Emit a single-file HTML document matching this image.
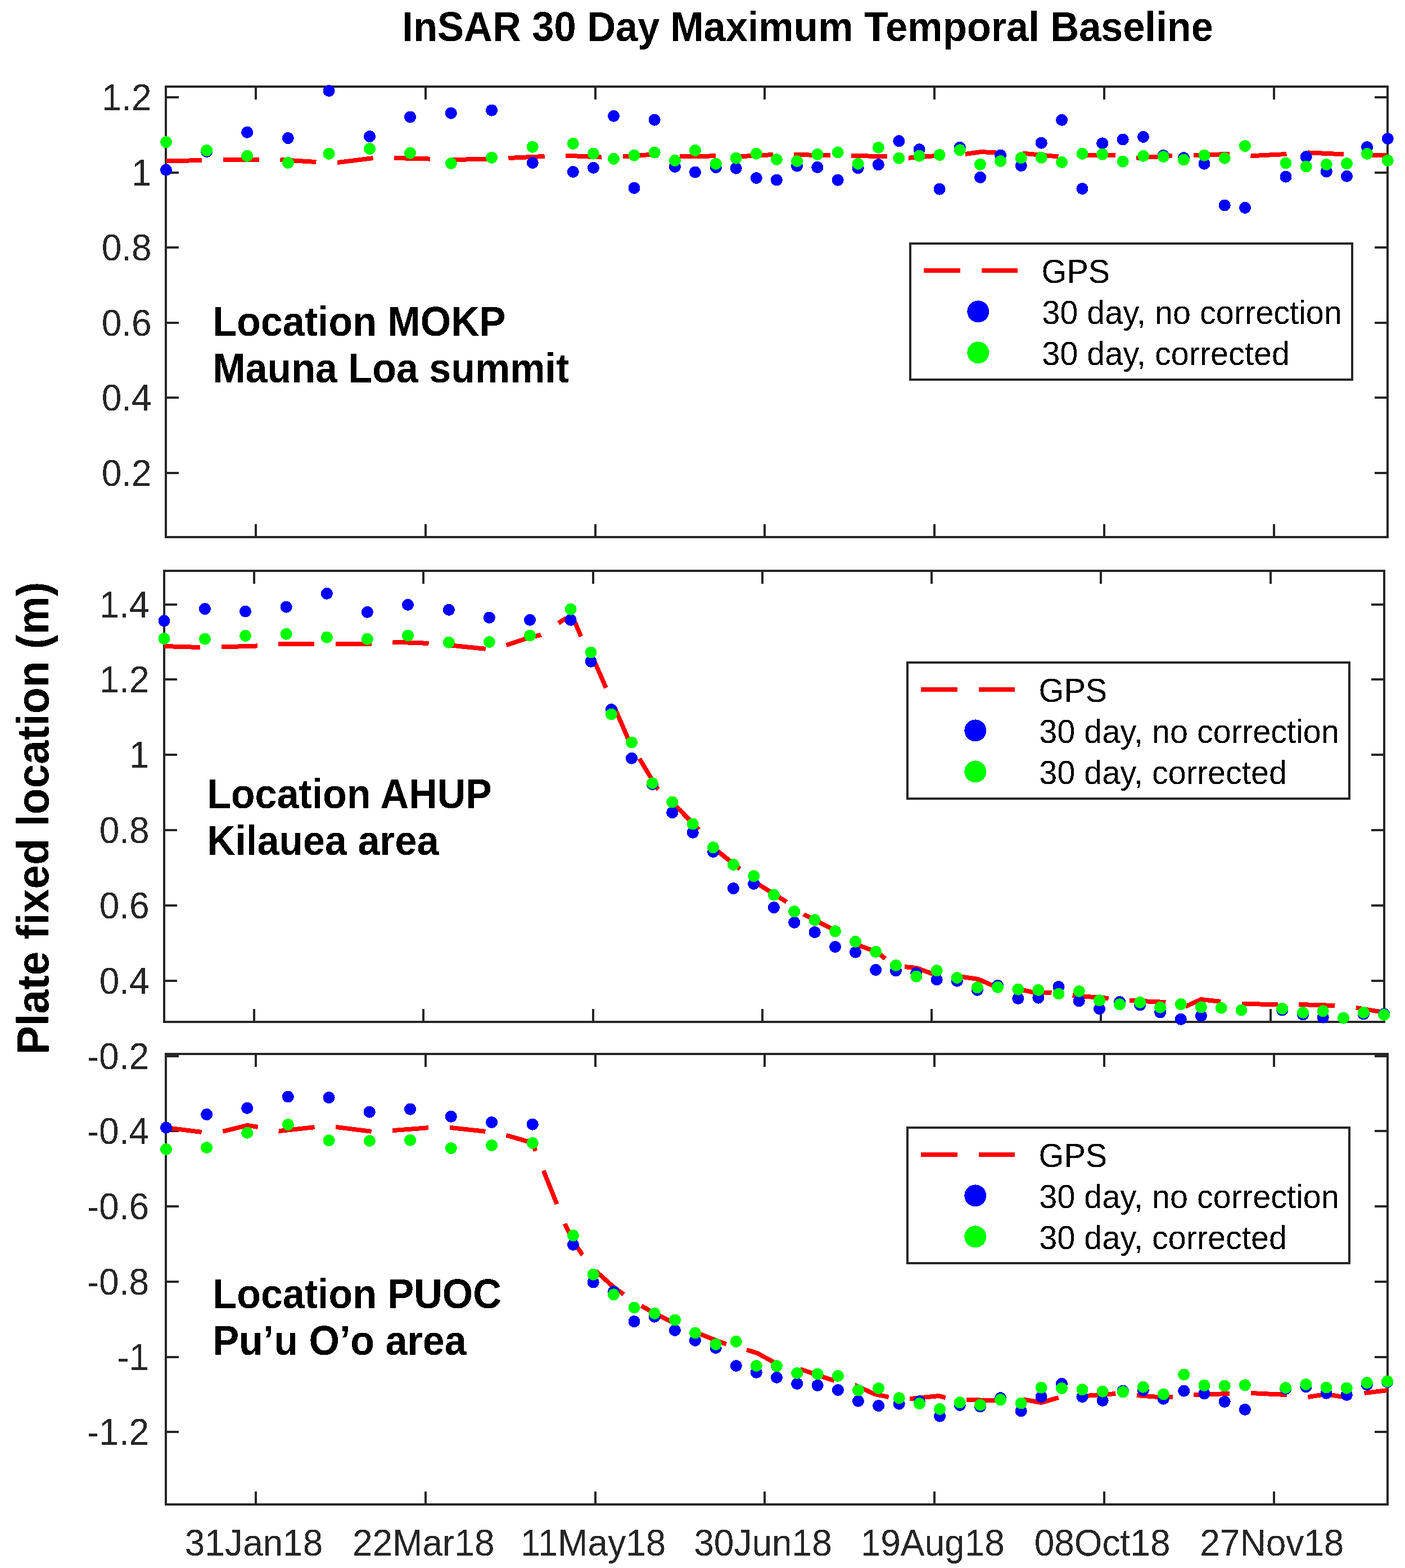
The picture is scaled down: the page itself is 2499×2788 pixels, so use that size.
<!DOCTYPE html>
<html><head><meta charset="utf-8"><title>InSAR 30 Day Maximum Temporal Baseline</title>
<style>html,body{margin:0;padding:0;background:#fff;width:2499px;height:2788px;overflow:hidden}svg{display:block}text{font-family:"Liberation Sans", Arial, Helvetica, sans-serif}</style></head><body>
<svg width="2499" height="2788" viewBox="0 0 2499 2788">
<rect width="2499" height="2788" fill="#fff"/>
<defs><filter id="bin" x="0" y="0" width="1" height="1" color-interpolation-filters="sRGB"><feComponentTransfer><feFuncA type="discrete" tableValues="0 1"/></feComponentTransfer></filter></defs>
<path d="M295 173h23M2468 173h-23M295 307h23M2468 307h-23M295 440h23M2468 440h-23M295 574h23M2468 574h-23M295 707h23M2468 707h-23M295 841h23M2468 841h-23M455 955v-23M455 154v23M757 955v-23M757 154v23M1059 955v-23M1059 154v23M1360 955v-23M1360 154v23M1662 955v-23M1662 154v23M1964 955v-23M1964 154v23M2266 955v-23M2266 154v23" stroke="#262626" stroke-width="4" fill="none" shape-rendering="crispEdges"/>
<rect x="295" y="154" width="2173" height="801" fill="none" stroke="#262626" stroke-width="4" shape-rendering="crispEdges"/>
<polyline points="295,286.5 358,285 397,284.5 460,284 498,284 562,288 600,289 664,281 700,281 766,282.6 808,284 867,282.6 905,281 968,278 1006,276.6 1071,279.6 1108,278.5 1156,275 1209,278.5 1273,277.3 1311,278.5 1375,275 1412,275 1476,276.2 1514,276.6 1578,278.5 1616,280.8 1661,277.3 1718,273.8 1745,270 1772,271.5 1819,272.7 1883,278.5 1934,276.2 1983,276.2 2021,280.8 2085,276.9 2124,276.2 2188,273.8 2225,277.2 2290,273.9 2327,271.4 2391,274.4 2440,275.5 2468,275.5" fill="none" stroke="#f00" stroke-width="8" stroke-dasharray="64.2 37.5" stroke-linejoin="round" shape-rendering="crispEdges"/>
<g fill="#00f" shape-rendering="crispEdges"><circle cx="295.5" cy="302.2" r="10.5"/><circle cx="367.7" cy="269.5" r="10.5"/><circle cx="439.7" cy="235.3" r="10.5"/><circle cx="512.4" cy="245.5" r="10.5"/><circle cx="585.1" cy="161.5" r="10.5"/><circle cx="657.6" cy="242.7" r="10.5"/><circle cx="729.6" cy="208.1" r="10.5"/><circle cx="802.3" cy="201.2" r="10.5"/><circle cx="874.6" cy="196.1" r="10.5"/><circle cx="947.3" cy="289.5" r="10.5"/><circle cx="1019.3" cy="305.5" r="10.5"/><circle cx="1055.5" cy="298.3" r="10.5"/><circle cx="1091.5" cy="206.3" r="10.5"/><circle cx="1128" cy="334.3" r="10.5"/><circle cx="1164.2" cy="213.2" r="10.5"/><circle cx="1200.5" cy="296.5" r="10.5"/><circle cx="1236.5" cy="306.2" r="10.5"/><circle cx="1273.4" cy="297.6" r="10.5"/><circle cx="1309.2" cy="299.2" r="10.5"/><circle cx="1345.4" cy="316.5" r="10.5"/><circle cx="1381.4" cy="320" r="10.5"/><circle cx="1417.6" cy="295.1" r="10.5"/><circle cx="1453.9" cy="297.4" r="10.5"/><circle cx="1490.2" cy="320.2" r="10.5"/><circle cx="1526.2" cy="298.8" r="10.5"/><circle cx="1562.4" cy="292.8" r="10.5"/><circle cx="1598.9" cy="250.8" r="10.5"/><circle cx="1635.1" cy="265.8" r="10.5"/><circle cx="1671.1" cy="336.2" r="10.5"/><circle cx="1707.3" cy="262.3" r="10.5"/><circle cx="1743.6" cy="315.4" r="10.5"/><circle cx="1779.6" cy="276.2" r="10.5"/><circle cx="1816.3" cy="294.6" r="10.5"/><circle cx="1852.3" cy="254.2" r="10.5"/><circle cx="1888.6" cy="213.4" r="10.5"/><circle cx="1925" cy="335.5" r="10.5"/><circle cx="1960.8" cy="254.9" r="10.5"/><circle cx="1997.2" cy="248" r="10.5"/><circle cx="2033.5" cy="243.4" r="10.5"/><circle cx="2069.2" cy="276.6" r="10.5"/><circle cx="2105.5" cy="280.8" r="10.5"/><circle cx="2142" cy="291.2" r="10.5"/><circle cx="2178.2" cy="365" r="10.5"/><circle cx="2214.5" cy="369.4" r="10.5"/><circle cx="2287" cy="314.2" r="10.5"/><circle cx="2323.2" cy="278.8" r="10.5"/><circle cx="2359.4" cy="305.1" r="10.5"/><circle cx="2395.5" cy="313.3" r="10.5"/><circle cx="2431.6" cy="261.6" r="10.5"/><circle cx="2468.3" cy="246.5" r="10.5"/></g>
<g fill="#0f0" shape-rendering="crispEdges"><circle cx="295.5" cy="252.6" r="10.5"/><circle cx="367.7" cy="267.6" r="10.5"/><circle cx="439.7" cy="277.3" r="10.5"/><circle cx="512.4" cy="289.3" r="10.5"/><circle cx="585.1" cy="273.4" r="10.5"/><circle cx="657.6" cy="264.6" r="10.5"/><circle cx="729.6" cy="272.2" r="10.5"/><circle cx="802.3" cy="290.5" r="10.5"/><circle cx="874.6" cy="280.3" r="10.5"/><circle cx="947.3" cy="261.2" r="10.5"/><circle cx="1019.3" cy="255.4" r="10.5"/><circle cx="1055.5" cy="273.2" r="10.5"/><circle cx="1091.5" cy="282.4" r="10.5"/><circle cx="1128" cy="276.2" r="10.5"/><circle cx="1164.2" cy="271.1" r="10.5"/><circle cx="1200.5" cy="285.4" r="10.5"/><circle cx="1236.5" cy="267.4" r="10.5"/><circle cx="1273.4" cy="291.2" r="10.5"/><circle cx="1309.2" cy="281.2" r="10.5"/><circle cx="1345.4" cy="273.2" r="10.5"/><circle cx="1381.4" cy="283.5" r="10.5"/><circle cx="1417.6" cy="286.5" r="10.5"/><circle cx="1453.9" cy="274.5" r="10.5"/><circle cx="1490.2" cy="270.9" r="10.5"/><circle cx="1526.2" cy="291.2" r="10.5"/><circle cx="1562.4" cy="262.3" r="10.5"/><circle cx="1598.9" cy="281.2" r="10.5"/><circle cx="1635.1" cy="277.3" r="10.5"/><circle cx="1671.1" cy="275.5" r="10.5"/><circle cx="1707.3" cy="266.9" r="10.5"/><circle cx="1743.6" cy="292.3" r="10.5"/><circle cx="1779.6" cy="286.5" r="10.5"/><circle cx="1816.3" cy="280.8" r="10.5"/><circle cx="1852.3" cy="280.3" r="10.5"/><circle cx="1888.6" cy="288.4" r="10.5"/><circle cx="1925" cy="273.4" r="10.5"/><circle cx="1960.8" cy="274.3" r="10.5"/><circle cx="1997.2" cy="287.2" r="10.5"/><circle cx="2033.5" cy="277.3" r="10.5"/><circle cx="2069.2" cy="278.5" r="10.5"/><circle cx="2105.5" cy="284.2" r="10.5"/><circle cx="2142" cy="276.2" r="10.5"/><circle cx="2178.2" cy="281.2" r="10.5"/><circle cx="2214.5" cy="259.7" r="10.5"/><circle cx="2287" cy="290" r="10.5"/><circle cx="2323.2" cy="296.1" r="10.5"/><circle cx="2359.4" cy="292.5" r="10.5"/><circle cx="2395.5" cy="290.8" r="10.5"/><circle cx="2431.6" cy="273.4" r="10.5"/><circle cx="2468.3" cy="285.4" r="10.5"/></g>
<rect x="1619" y="433" width="786" height="242" fill="#fff" stroke="#262626" stroke-width="4" shape-rendering="crispEdges"/>
<path d="M1643 481h65M1746 481h64" stroke="#f00" stroke-width="8" shape-rendering="crispEdges"/>
<circle cx="1739.8" cy="553.9" r="19.5" fill="#00f" shape-rendering="crispEdges"/>
<circle cx="1739.8" cy="626.9" r="19.5" fill="#0f0" shape-rendering="crispEdges"/>
<path d="M292 1075h23M2462 1075h-23M292 1208h23M2462 1208h-23M292 1342h23M2462 1342h-23M292 1476h23M2462 1476h-23M292 1610h23M2462 1610h-23M292 1744h23M2462 1744h-23M452 1817v-23M452 1015v23M753 1817v-23M753 1015v23M1055 1817v-23M1055 1015v23M1356 1817v-23M1356 1015v23M1657 1817v-23M1657 1015v23M1958 1817v-23M1958 1015v23M2260 1817v-23M2260 1015v23" stroke="#262626" stroke-width="4" fill="none" shape-rendering="crispEdges"/>
<rect x="292" y="1015" width="2170" height="802" fill="none" stroke="#262626" stroke-width="4" shape-rendering="crispEdges"/>
<polyline points="292,1149 356,1151 393,1150.5 458,1148.4 495,1145 560,1145.4 597,1145.4 662,1145 698,1141.5 763,1143.9 800,1147.3 864,1153.8 900,1147.3 942.6,1133 962,1128.9 993,1108 1005,1100.5 1015,1097 1024,1109.2 1033,1131.2 1051,1168 1058.5,1178.5 1078,1223.5 1097,1267 1117,1313 1138,1350 1170,1403 1203,1434 1242,1474 1276,1513 1316,1545 1350,1573 1398,1603 1430,1626 1477,1650 1528,1681 1560,1693 1575,1705 1608,1719 1630,1721 1660,1732 1712,1737 1740,1741 1765,1752 1805,1757 1840,1765 1870,1765 1908,1770 1972,1775 2009,1779 2073,1782 2110,1789 2136,1777 2172,1781 2209,1785 2273,1786 2311,1786 2375,1788 2413,1792 2461,1800" fill="none" stroke="#f00" stroke-width="8" stroke-dasharray="64.2 37.5" stroke-linejoin="round" shape-rendering="crispEdges"/>
<g fill="#00f" shape-rendering="crispEdges"><circle cx="292" cy="1103.9" r="10.5"/><circle cx="364.5" cy="1082.6" r="10.5"/><circle cx="436.5" cy="1087.2" r="10.5"/><circle cx="509.2" cy="1079.2" r="10.5"/><circle cx="581.4" cy="1055.4" r="10.5"/><circle cx="653.4" cy="1088.4" r="10.5"/><circle cx="725.5" cy="1075.3" r="10.5"/><circle cx="798.4" cy="1084.3" r="10.5"/><circle cx="870.4" cy="1098.2" r="10.5"/><circle cx="942.6" cy="1102.3" r="10.5"/><circle cx="1015.1" cy="1102.3" r="10.5"/><circle cx="1051.1" cy="1176.2" r="10.5"/><circle cx="1087.4" cy="1261.7" r="10.5"/><circle cx="1123.6" cy="1348.3" r="10.5"/><circle cx="1160.3" cy="1394.5" r="10.5"/><circle cx="1195.8" cy="1444.8" r="10.5"/><circle cx="1232.3" cy="1480.3" r="10.5"/><circle cx="1268.5" cy="1514.5" r="10.5"/><circle cx="1304.5" cy="1579.6" r="10.5"/><circle cx="1340.8" cy="1571.5" r="10.5"/><circle cx="1376.5" cy="1613.6" r="10.5"/><circle cx="1412.8" cy="1640.3" r="10.5"/><circle cx="1449.2" cy="1657.6" r="10.5"/><circle cx="1485.5" cy="1683.5" r="10.5"/><circle cx="1521.5" cy="1693" r="10.5"/><circle cx="1557.7" cy="1724.6" r="10.5"/><circle cx="1593.5" cy="1725.8" r="10.5"/><circle cx="1629.9" cy="1730.4" r="10.5"/><circle cx="1666.2" cy="1741.9" r="10.5"/><circle cx="1702.4" cy="1744.2" r="10.5"/><circle cx="1738.4" cy="1760.4" r="10.5"/><circle cx="1774.6" cy="1752.3" r="10.5"/><circle cx="1810.9" cy="1775.4" r="10.5"/><circle cx="1846.9" cy="1774.2" r="10.5"/><circle cx="1883.1" cy="1754.5" r="10.5"/><circle cx="1919.3" cy="1779.8" r="10.5"/><circle cx="1955.6" cy="1793.8" r="10.5"/><circle cx="1991.6" cy="1781.5" r="10.5"/><circle cx="2027.7" cy="1786.8" r="10.5"/><circle cx="2063.7" cy="1800" r="10.5"/><circle cx="2100.3" cy="1812.3" r="10.5"/><circle cx="2136.4" cy="1806.2" r="10.5"/><circle cx="2172.2" cy="1792.1" r="10.5"/><circle cx="2208" cy="1796" r="10.5"/><circle cx="2280.8" cy="1796" r="10.5"/><circle cx="2317.6" cy="1803.9" r="10.5"/><circle cx="2353.2" cy="1809.1" r="10.5"/><circle cx="2389.5" cy="1810" r="10.5"/><circle cx="2425.4" cy="1803" r="10.5"/><circle cx="2461.7" cy="1803" r="10.5"/></g>
<g fill="#0f0" shape-rendering="crispEdges"><circle cx="292" cy="1135.5" r="10.5"/><circle cx="364.5" cy="1136.2" r="10.5"/><circle cx="436.5" cy="1130.4" r="10.5"/><circle cx="509.2" cy="1127.4" r="10.5"/><circle cx="581.4" cy="1133.2" r="10.5"/><circle cx="653.4" cy="1136.2" r="10.5"/><circle cx="725.5" cy="1130" r="10.5"/><circle cx="798.4" cy="1142.2" r="10.5"/><circle cx="870.4" cy="1141.5" r="10.5"/><circle cx="942.6" cy="1130" r="10.5"/><circle cx="1015.1" cy="1083.2" r="10.5"/><circle cx="1051.1" cy="1160" r="10.5"/><circle cx="1087.4" cy="1270" r="10.5"/><circle cx="1123.6" cy="1320" r="10.5"/><circle cx="1160.3" cy="1392.5" r="10.5"/><circle cx="1195.8" cy="1426.1" r="10.5"/><circle cx="1232.3" cy="1465" r="10.5"/><circle cx="1268.5" cy="1506.9" r="10.5"/><circle cx="1304.5" cy="1537.4" r="10.5"/><circle cx="1340.8" cy="1557.7" r="10.5"/><circle cx="1376.5" cy="1591.2" r="10.5"/><circle cx="1412.8" cy="1620.7" r="10.5"/><circle cx="1449.2" cy="1635.7" r="10.5"/><circle cx="1485.5" cy="1655.8" r="10.5"/><circle cx="1521.5" cy="1674.3" r="10.5"/><circle cx="1557.7" cy="1692.3" r="10.5"/><circle cx="1593.5" cy="1716.5" r="10.5"/><circle cx="1629.9" cy="1736.2" r="10.5"/><circle cx="1666.2" cy="1725.8" r="10.5"/><circle cx="1702.4" cy="1738.5" r="10.5"/><circle cx="1738.4" cy="1755.8" r="10.5"/><circle cx="1774.6" cy="1755.3" r="10.5"/><circle cx="1810.9" cy="1759.2" r="10.5"/><circle cx="1846.9" cy="1760.4" r="10.5"/><circle cx="1883.1" cy="1767" r="10.5"/><circle cx="1919.3" cy="1762.5" r="10.5"/><circle cx="1955.6" cy="1778.9" r="10.5"/><circle cx="1991.6" cy="1785.9" r="10.5"/><circle cx="2027.7" cy="1782.4" r="10.5"/><circle cx="2063.7" cy="1791.2" r="10.5"/><circle cx="2100.3" cy="1785.6" r="10.5"/><circle cx="2136.4" cy="1790.9" r="10.5"/><circle cx="2172.2" cy="1792.1" r="10.5"/><circle cx="2208" cy="1796" r="10.5"/><circle cx="2280.8" cy="1793.4" r="10.5"/><circle cx="2317.6" cy="1800.4" r="10.5"/><circle cx="2353.2" cy="1797.8" r="10.5"/><circle cx="2389.5" cy="1810" r="10.5"/><circle cx="2425.4" cy="1800.4" r="10.5"/><circle cx="2461.7" cy="1804.4" r="10.5"/></g>
<rect x="1614" y="1178" width="786" height="242" fill="#fff" stroke="#262626" stroke-width="4" shape-rendering="crispEdges"/>
<path d="M1638 1226h65M1741 1226h64" stroke="#f00" stroke-width="8" shape-rendering="crispEdges"/>
<circle cx="1734.8" cy="1298.9" r="19.5" fill="#00f" shape-rendering="crispEdges"/>
<circle cx="1734.8" cy="1371.9" r="19.5" fill="#0f0" shape-rendering="crispEdges"/>
<path d="M295 1878h23M2468 1878h-23M295 2011h23M2468 2011h-23M295 2145h23M2468 2145h-23M295 2279h23M2468 2279h-23M295 2413h23M2468 2413h-23M295 2546h23M2468 2546h-23M455 2675v-23M455 1874v23M757 2675v-23M757 1874v23M1059 2675v-23M1059 1874v23M1360 2675v-23M1360 1874v23M1662 2675v-23M1662 1874v23M1964 2675v-23M1964 1874v23M2266 2675v-23M2266 1874v23" stroke="#262626" stroke-width="4" fill="none" shape-rendering="crispEdges"/>
<rect x="295" y="1874" width="2173" height="801" fill="none" stroke="#262626" stroke-width="4" shape-rendering="crispEdges"/>
<polyline points="295,2005 359,2013 396,2012 440,2001 460,2004 497,2011 561,2004 598,2004 662,2012 700,2010 764,2005 801,2005 865,2012 902,2019 947,2032 1005,2177 1019,2205 1035,2230 1063,2263 1091,2288 1110,2302 1141,2322 1164,2335 1200,2353 1233,2367 1270,2382 1292,2390 1328,2400 1347,2406 1376,2422 1422,2434 1484,2455 1521,2463 1556,2479 1581,2484 1619,2487 1670,2482 1681,2485 1716,2489 1770,2490 1819,2488 1852,2494 1883,2485 1930,2482 1985,2478 2022,2481 2060,2484 2086,2484 2124,2480 2187,2478 2224,2477 2288,2480 2326,2484 2359,2479 2390,2484 2426,2477 2468,2472" fill="none" stroke="#f00" stroke-width="8" stroke-dasharray="64.2 37.5" stroke-linejoin="round" shape-rendering="crispEdges"/>
<g fill="#00f" shape-rendering="crispEdges"><circle cx="295.5" cy="2005" r="10.5"/><circle cx="367.7" cy="1981.6" r="10.5"/><circle cx="439.7" cy="1970.3" r="10.5"/><circle cx="512.4" cy="1950" r="10.5"/><circle cx="585.1" cy="1951.6" r="10.5"/><circle cx="657.3" cy="1977.2" r="10.5"/><circle cx="729.6" cy="1972.2" r="10.5"/><circle cx="802.3" cy="1985.3" r="10.5"/><circle cx="874.6" cy="1995.5" r="10.5"/><circle cx="947.3" cy="1999.2" r="10.5"/><circle cx="1019.5" cy="2213.1" r="10.5"/><circle cx="1055.3" cy="2280" r="10.5"/><circle cx="1091.5" cy="2296.6" r="10.5"/><circle cx="1128" cy="2349.7" r="10.5"/><circle cx="1164.2" cy="2341.2" r="10.5"/><circle cx="1200.5" cy="2365.4" r="10.5"/><circle cx="1236.5" cy="2383.4" r="10.5"/><circle cx="1273.2" cy="2396.6" r="10.5"/><circle cx="1309.3" cy="2428.5" r="10.5"/><circle cx="1345.3" cy="2440.3" r="10.5"/><circle cx="1381.5" cy="2449.3" r="10.5"/><circle cx="1417.8" cy="2460.4" r="10.5"/><circle cx="1454.2" cy="2463.4" r="10.5"/><circle cx="1490.5" cy="2471.5" r="10.5"/><circle cx="1526.5" cy="2491.1" r="10.5"/><circle cx="1562.7" cy="2499.6" r="10.5"/><circle cx="1599.2" cy="2496.2" r="10.5"/><circle cx="1635.4" cy="2491.5" r="10.5"/><circle cx="1671.6" cy="2518.1" r="10.5"/><circle cx="1707.3" cy="2498.5" r="10.5"/><circle cx="1743.5" cy="2500.8" r="10.5"/><circle cx="1779.5" cy="2485.8" r="10.5"/><circle cx="1816.2" cy="2508.9" r="10.5"/><circle cx="1852.2" cy="2483.5" r="10.5"/><circle cx="1888.5" cy="2460.4" r="10.5"/><circle cx="1925" cy="2483.5" r="10.5"/><circle cx="1961.2" cy="2490.4" r="10.5"/><circle cx="1997.4" cy="2473" r="10.5"/><circle cx="2033.4" cy="2471.9" r="10.5"/><circle cx="2069.4" cy="2487.2" r="10.5"/><circle cx="2105.8" cy="2473.1" r="10.5"/><circle cx="2142" cy="2477.9" r="10.5"/><circle cx="2178.2" cy="2492.4" r="10.5"/><circle cx="2214.4" cy="2506.3" r="10.5"/><circle cx="2286.7" cy="2469.4" r="10.5"/><circle cx="2322.9" cy="2465.8" r="10.5"/><circle cx="2359.1" cy="2477.2" r="10.5"/><circle cx="2395.3" cy="2480.3" r="10.5"/><circle cx="2431.4" cy="2462.2" r="10.5"/><circle cx="2467.6" cy="2457.4" r="10.5"/></g>
<g fill="#0f0" shape-rendering="crispEdges"><circle cx="295.5" cy="2043.5" r="10.5"/><circle cx="367.7" cy="2040.5" r="10.5"/><circle cx="439.7" cy="2014.2" r="10.5"/><circle cx="512.4" cy="1999.6" r="10.5"/><circle cx="585.1" cy="2027.8" r="10.5"/><circle cx="657.3" cy="2028.5" r="10.5"/><circle cx="729.6" cy="2027.3" r="10.5"/><circle cx="802.3" cy="2041.6" r="10.5"/><circle cx="874.6" cy="2036.5" r="10.5"/><circle cx="947.3" cy="2032.4" r="10.5"/><circle cx="1019.5" cy="2196.9" r="10.5"/><circle cx="1055.3" cy="2266.2" r="10.5"/><circle cx="1091.5" cy="2301.9" r="10.5"/><circle cx="1128" cy="2325" r="10.5"/><circle cx="1164.2" cy="2335.4" r="10.5"/><circle cx="1200.5" cy="2347" r="10.5"/><circle cx="1236.5" cy="2370" r="10.5"/><circle cx="1273.2" cy="2390.3" r="10.5"/><circle cx="1309.3" cy="2385.4" r="10.5"/><circle cx="1345.3" cy="2428.5" r="10.5"/><circle cx="1381.5" cy="2428.8" r="10.5"/><circle cx="1417.8" cy="2441.5" r="10.5"/><circle cx="1454.2" cy="2443.1" r="10.5"/><circle cx="1490.5" cy="2446.5" r="10.5"/><circle cx="1526.5" cy="2471.9" r="10.5"/><circle cx="1562.7" cy="2468.5" r="10.5"/><circle cx="1599.2" cy="2485.8" r="10.5"/><circle cx="1635.4" cy="2495.7" r="10.5"/><circle cx="1671.6" cy="2505.4" r="10.5"/><circle cx="1707.3" cy="2493.8" r="10.5"/><circle cx="1743.5" cy="2498" r="10.5"/><circle cx="1779.5" cy="2488.8" r="10.5"/><circle cx="1816.2" cy="2495" r="10.5"/><circle cx="1852.2" cy="2467.3" r="10.5"/><circle cx="1888.5" cy="2468.5" r="10.5"/><circle cx="1925" cy="2470.8" r="10.5"/><circle cx="1961.2" cy="2474.2" r="10.5"/><circle cx="1997.4" cy="2474.9" r="10.5"/><circle cx="2033.4" cy="2466.2" r="10.5"/><circle cx="2069.4" cy="2479" r="10.5"/><circle cx="2105.8" cy="2444.1" r="10.5"/><circle cx="2142" cy="2463.4" r="10.5"/><circle cx="2178.2" cy="2464.1" r="10.5"/><circle cx="2214.4" cy="2462.9" r="10.5"/><circle cx="2286.7" cy="2467.5" r="10.5"/><circle cx="2322.9" cy="2461.5" r="10.5"/><circle cx="2359.1" cy="2467" r="10.5"/><circle cx="2395.3" cy="2468.2" r="10.5"/><circle cx="2431.4" cy="2458.6" r="10.5"/><circle cx="2467.6" cy="2456.2" r="10.5"/></g>
<rect x="1614" y="2005" width="786" height="241" fill="#fff" stroke="#262626" stroke-width="4" shape-rendering="crispEdges"/>
<path d="M1638 2053h65M1741 2053h64" stroke="#f00" stroke-width="8" shape-rendering="crispEdges"/>
<circle cx="1734.8" cy="2125.9" r="19.5" fill="#00f" shape-rendering="crispEdges"/>
<circle cx="1734.8" cy="2198.9" r="19.5" fill="#0f0" shape-rendering="crispEdges"/>
<g filter="url(#bin)"><text x="1436.7" y="73" text-anchor="middle" font-size="70.4" font-weight="bold" fill="#000" transform="translate(0 73) scale(1 1.045) translate(0 -73)">InSAR 30 Day Maximum Temporal Baseline</text><text x="0" y="0" text-anchor="start" font-size="76.8" font-weight="bold" fill="#000" transform="translate(86.3 1875.2) rotate(-90) scale(1 1.045)">Plate fixed location (m)</text><text x="269.6" y="196" text-anchor="end" font-size="64" fill="#262626" transform="translate(0 196) scale(1 1.030) translate(0 -196)">1.2</text><text x="269.6" y="330" text-anchor="end" font-size="64" fill="#262626" transform="translate(0 330) scale(1 1.030) translate(0 -330)">1</text><text x="269.6" y="463" text-anchor="end" font-size="64" fill="#262626" transform="translate(0 463) scale(1 1.030) translate(0 -463)">0.8</text><text x="269.6" y="597" text-anchor="end" font-size="64" fill="#262626" transform="translate(0 597) scale(1 1.030) translate(0 -597)">0.6</text><text x="269.6" y="730" text-anchor="end" font-size="64" fill="#262626" transform="translate(0 730) scale(1 1.030) translate(0 -730)">0.4</text><text x="269.6" y="864" text-anchor="end" font-size="64" fill="#262626" transform="translate(0 864) scale(1 1.030) translate(0 -864)">0.2</text><text x="378.3" y="596.6" font-size="70" font-weight="bold" fill="#000" transform="translate(0 596.6) scale(1 1.05) translate(0 -596.6)">Location MOKP</text><text x="378.3" y="679.8" font-size="70" font-weight="bold" fill="#000" transform="translate(0 679.8) scale(1 1.05) translate(0 -679.8)">Mauna Loa summit</text><text x="1852.6" y="503.2" font-size="57.6" fill="#000" transform="translate(0 503.2) scale(1 1.04) translate(0 -503.2)">GPS</text><text x="1853.3" y="576.4" font-size="57.6" fill="#000" transform="translate(0 576.4) scale(1 1.04) translate(0 -576.4)">30 day, no correction</text><text x="1853.3" y="649.3" font-size="57.6" fill="#000" transform="translate(0 649.3) scale(1 1.04) translate(0 -649.3)">30 day, corrected</text><text x="265.6" y="1098" text-anchor="end" font-size="64" fill="#262626" transform="translate(0 1098) scale(1 1.030) translate(0 -1098)">1.4</text><text x="265.6" y="1231" text-anchor="end" font-size="64" fill="#262626" transform="translate(0 1231) scale(1 1.030) translate(0 -1231)">1.2</text><text x="265.6" y="1365" text-anchor="end" font-size="64" fill="#262626" transform="translate(0 1365) scale(1 1.030) translate(0 -1365)">1</text><text x="265.6" y="1499" text-anchor="end" font-size="64" fill="#262626" transform="translate(0 1499) scale(1 1.030) translate(0 -1499)">0.8</text><text x="265.6" y="1633" text-anchor="end" font-size="64" fill="#262626" transform="translate(0 1633) scale(1 1.030) translate(0 -1633)">0.6</text><text x="265.6" y="1767" text-anchor="end" font-size="64" fill="#262626" transform="translate(0 1767) scale(1 1.030) translate(0 -1767)">0.4</text><text x="368" y="1437.1" font-size="70" font-weight="bold" fill="#000" transform="translate(0 1437.1) scale(1 1.05) translate(0 -1437.1)">Location AHUP</text><text x="368" y="1520.3" font-size="70" font-weight="bold" fill="#000" transform="translate(0 1520.3) scale(1 1.05) translate(0 -1520.3)">Kilauea area</text><text x="1847.6" y="1248.2" font-size="57.6" fill="#000" transform="translate(0 1248.2) scale(1 1.04) translate(0 -1248.2)">GPS</text><text x="1848.3" y="1321.4" font-size="57.6" fill="#000" transform="translate(0 1321.4) scale(1 1.04) translate(0 -1321.4)">30 day, no correction</text><text x="1848.3" y="1394.3" font-size="57.6" fill="#000" transform="translate(0 1394.3) scale(1 1.04) translate(0 -1394.3)">30 day, corrected</text><text x="265.1" y="1901" text-anchor="end" font-size="64" fill="#262626" transform="translate(0 1901) scale(1 1.030) translate(0 -1901)">-0.2</text><text x="265.1" y="2034" text-anchor="end" font-size="64" fill="#262626" transform="translate(0 2034) scale(1 1.030) translate(0 -2034)">-0.4</text><text x="265.1" y="2168" text-anchor="end" font-size="64" fill="#262626" transform="translate(0 2168) scale(1 1.030) translate(0 -2168)">-0.6</text><text x="265.1" y="2302" text-anchor="end" font-size="64" fill="#262626" transform="translate(0 2302) scale(1 1.030) translate(0 -2302)">-0.8</text><text x="265.1" y="2436" text-anchor="end" font-size="64" fill="#262626" transform="translate(0 2436) scale(1 1.030) translate(0 -2436)">-1</text><text x="265.1" y="2569" text-anchor="end" font-size="64" fill="#262626" transform="translate(0 2569) scale(1 1.030) translate(0 -2569)">-1.2</text><text x="378.4" y="2326.2" font-size="70" font-weight="bold" fill="#000" transform="translate(0 2326.2) scale(1 1.05) translate(0 -2326.2)">Location PUOC</text><text x="378.4" y="2409.4" font-size="70" font-weight="bold" fill="#000" transform="translate(0 2409.4) scale(1 1.05) translate(0 -2409.4)">Pu’u O’o area</text><text x="1847.6" y="2075.2" font-size="57.6" fill="#000" transform="translate(0 2075.2) scale(1 1.04) translate(0 -2075.2)">GPS</text><text x="1848.3" y="2148.4" font-size="57.6" fill="#000" transform="translate(0 2148.4) scale(1 1.04) translate(0 -2148.4)">30 day, no correction</text><text x="1848.3" y="2221.3" font-size="57.6" fill="#000" transform="translate(0 2221.3) scale(1 1.04) translate(0 -2221.3)">30 day, corrected</text><text x="451.5" y="2766" text-anchor="middle" font-size="64" fill="#262626" transform="translate(0 2766) scale(1 1.030) translate(0 -2766)">31Jan18</text><text x="753.3" y="2766" text-anchor="middle" font-size="64" fill="#262626" transform="translate(0 2766) scale(1 1.030) translate(0 -2766)">22Mar18</text><text x="1055.1" y="2766" text-anchor="middle" font-size="64" fill="#262626" transform="translate(0 2766) scale(1 1.030) translate(0 -2766)">11May18</text><text x="1357" y="2766" text-anchor="middle" font-size="64" fill="#262626" transform="translate(0 2766) scale(1 1.030) translate(0 -2766)">30Jun18</text><text x="1658.8" y="2766" text-anchor="middle" font-size="64" fill="#262626" transform="translate(0 2766) scale(1 1.030) translate(0 -2766)">19Aug18</text><text x="1960.6" y="2766" text-anchor="middle" font-size="64" fill="#262626" transform="translate(0 2766) scale(1 1.030) translate(0 -2766)">08Oct18</text><text x="2262.4" y="2766" text-anchor="middle" font-size="64" fill="#262626" transform="translate(0 2766) scale(1 1.030) translate(0 -2766)">27Nov18</text></g>
</svg></body></html>
